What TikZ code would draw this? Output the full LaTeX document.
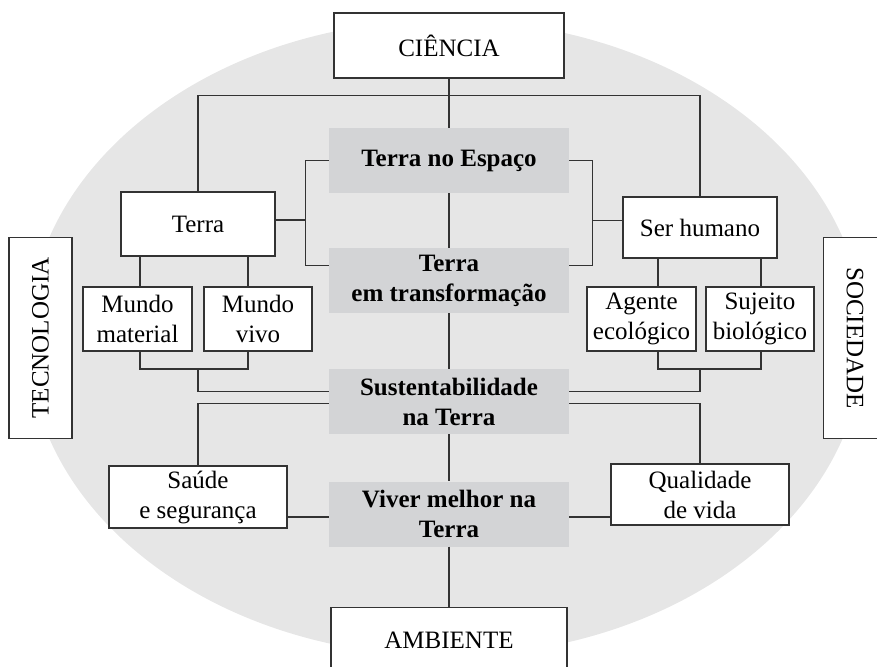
\documentclass[tikz,border=0pt]{standalone}
\usepackage{fontspec}
\setmainfont{Liberation Serif}
\definecolor{OvalGray}{HTML}{E6E6E6}
\definecolor{CoreGray}{HTML}{D3D4D6}
\definecolor{LineGray}{HTML}{333333}

\tikzset{
  link/.style={draw=LineGray, line width=1.3pt},
  box/.style 2 args={draw=LineGray, fill=white, line width=1.3pt, minimum width=#1, minimum height=#2,
    inner sep=0pt, align=center, font=\fontsize{25}{30}\selectfont},
  core/.style={fill=CoreGray, minimum width=240pt, minimum height=65pt, inner sep=0pt,
    align=center, font=\fontsize{25}{30}\selectfont\bfseries},
}

\begin{document}
\begin{tikzpicture}[x=1pt, y=-1pt]
    \useasboundingbox (0,0) rectangle (877,666);
    \fill[OvalGray] (446,338) ellipse [x radius=418pt, y radius=318pt];

    % eixo central
    \node[box={230pt}{65pt}] (cien) at (449,45.5) {CIÊNCIA};
    \node[core] (esp) at (449,160.5) {Terra no Espaço};
    \node[core] (transf) at (449,280.5) {Terra\\em transformação};
    \node[core] (sust) at (449,401.5) {Sustentabilidade\\na Terra};
    \node[core] (viver) at (449,514) {Viver melhor na\\Terra};
    \node[box={236pt}{65pt}] (amb) at (449,640) {AMBIENTE};

    % ramos
    \node[box={154pt}{64pt}] (terra) at (198,224) {Terra};
    \node[box={154pt}{61pt}] (ser) at (700,227.5) {Ser humano};
    \node[box={109pt}{64pt}] (mmat) at (137.5,319) {Mundo\\material};
    \node[box={108pt}{64pt}] (mviv) at (258,319) {Mundo\\vivo};
    \node[box={109pt}{64pt}] (agen) at (641.5,319) {Agente\\ecológico};
    \node[box={108pt}{64pt}] (suj) at (760,319) {Sujeito\\biológico};
    \node[box={178pt}{62pt}] (saude) at (198,497) {Saúde\\e segurança};
    \node[box={178pt}{61pt}] (qual) at (700,494.5) {Qualidade\\de vida};

    % laterais
    \node[box={201pt}{63pt}, rotate=90] (tecno) at (40.5,338) {TECNOLOGIA};
    \node[box={201pt}{63pt}, rotate=-90] (soc) at (855,338) {SOCIEDADE};

    \coordinate (mundos) at (198,369);
    \coordinate (humano) at (700,369);

    \draw[link] (cien.south) -- (esp.north);
    \draw[link] (terra.north) |- ([yshift=-17pt]cien.south) -| (ser.north);
    \draw[link] (esp) -- (transf);
    \draw[link] (transf) -- (sust);
    \draw[link] (sust) -- (viver);
    \draw[link] (viver) -- (amb);

    \draw[link] (esp.west) -- ++(-23,0) coordinate (lb) |- ([yshift=15pt]transf.west);
    \draw[link] ([yshift=4pt]terra.east) -- ([yshift=4pt]terra.east -| lb);
    \draw[link] (esp.east) -- ++(23,0) coordinate (rb) |- ([yshift=15pt]transf.east);
    \draw[link] ([yshift=7pt]ser.west) -- ([yshift=7pt]ser.west -| rb);

    \draw[link] ([xshift=-58pt]terra.south) coordinate (t1) -- (t1 |- mmat.north);
    \draw[link] ([xshift=50pt]terra.south) coordinate (t2) -- (t2 |- mviv.north);
    \draw[link] (t1 |- mmat.south) |- (mundos) -| (t2 |- mviv.south);
    \draw[link] (mundos) |- ([yshift=10pt]sust.west);

    \draw[link] ([xshift=-42pt]ser.south) coordinate (t3) -- (t3 |- agen.north);
    \draw[link] ([xshift=61pt]ser.south) coordinate (t4) -- (t4 |- suj.north);
    \draw[link] (t3 |- agen.south) |- (humano) -| (t4 |- suj.south);
    \draw[link] (humano) |- ([yshift=10pt]sust.east);

    \draw[link] (saude) |- ([yshift=-2pt]sust.west);
    \draw[link] (qual) |- ([yshift=-2pt]sust.east);
    \draw[link] ([yshift=-3pt]viver.west) -- ([yshift=-3pt]viver.west -| saude.east);
    \draw[link] ([yshift=-3pt]viver.east) -- ([yshift=-3pt]viver.east -| qual.west);
\end{tikzpicture}
\end{document}
